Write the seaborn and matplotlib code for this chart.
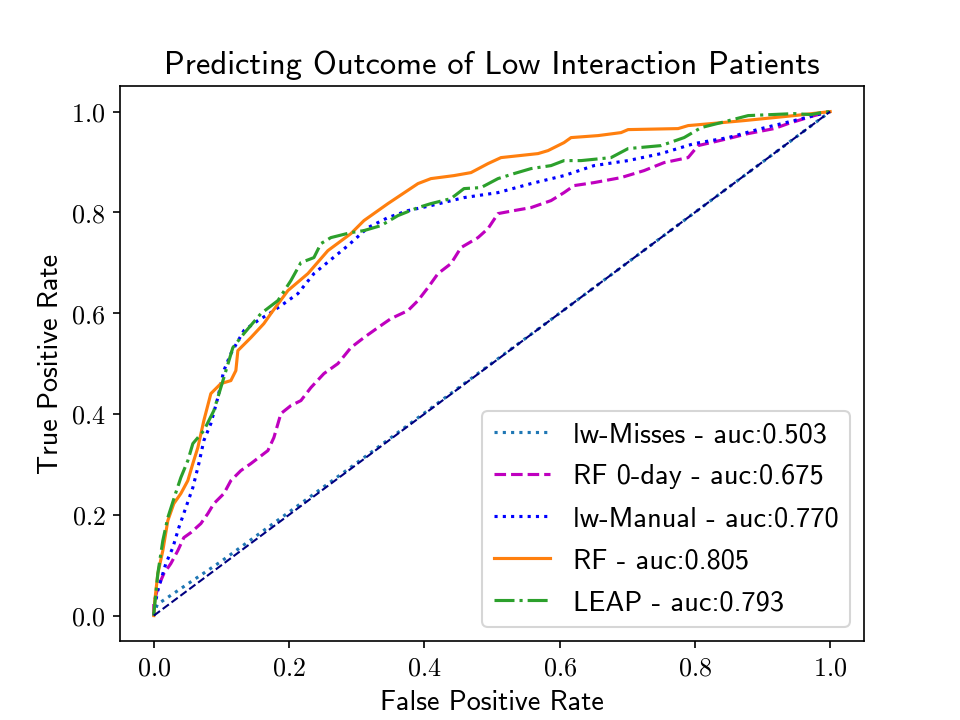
import numpy as np
import pandas as pd
import matplotlib
matplotlib.use("Agg")
import matplotlib.pyplot as plt
from matplotlib.ticker import FuncFormatter
import seaborn as sns

# ---- data (pixel traces converted to rates) ----
X0, X1, Y0, Y1 = 153.0, 829.0, 615.0, 111.0

def to_rates(pts):
    px = np.array([p[0] for p in pts], float)
    py = np.array([p[1] for p in pts], float)
    return list((px - X0) / (X1 - X0)), list((Y0 - py) / (Y0 - Y1))

misses_fpr = [0.0, 0.005, 0.10, 0.30, 0.60, 1.0]
misses_tpr = [0.0, 0.022, 0.108, 0.303, 0.600, 1.0]

rf0_fpr, rf0_tpr = to_rates([(153,615),(153,603),(157,587),(163,573),(170,563),(177,550),(183,537),(190,532),(200,523),(207,513),(213,503),(223,493),(230,480),(240,470),(250,463),(267,450),(273,437),(280,413),(290,405),(300,400),(310,387),(323,373),(337,363),(350,347),(363,337),(377,327),(390,318),(407,310),(417,300),(427,287),(437,273),(450,263),(460,247),(477,237),(487,228),(497,213),(513,210),(530,207),(550,200),(563,192),(573,185),(593,182),(620,177),(643,170),(663,162),(687,157),(697,145),(727,138),(747,133),(773,128),(787,123),(813,115),(829,111)])

manual_fpr, manual_tpr = to_rates([(153,615),(153,610),(157,590),(165,563),(172,547),(178,527),(185,507),(192,487),(198,463),(203,440),(210,423),(217,397),(223,370),(230,353),(243,330),(257,320),(270,312),(283,303),(297,293),(313,273),(330,259),(347,245),(367,227),(387,217),(407,210),(430,205),(463,197),(497,192),(530,183),(563,175),(593,165),(627,160),(660,153),(693,143),(727,137),(760,128),(793,120),(820,113),(829,111)])

rf_fpr, rf_tpr = to_rates([(153,615),(154,600),(157,573),(162,550),(167,520),(173,503),(180,493),(187,480),(192,463),(197,447),(203,420),(210,393),(220,383),(230,380),(235,370),(237,350),(250,337),(263,323),(270,313),(287,290),(307,273),(327,250),(350,233),(363,220),(387,203),(417,183),(430,178),(453,175),(470,172),(487,163),(500,157),(537,153),(547,150),(563,142),(570,137),(597,135),(620,132),(627,129),(677,128),(687,125),(710,123),(743,120),(793,115),(820,112),(829,111)])

leap_fpr, leap_tpr = to_rates([(153,615),(153,613),(157,573),(162,540),(167,517),(175,492),(180,477),(187,460),(192,443),(203,430),(213,410),(223,377),(232,347),(243,333),(260,313),(277,300),(290,280),(300,262),(313,257),(320,243),(330,237),(350,232),(363,230),(380,225),(397,215),(417,207),(430,203),(450,198),(463,188),(480,187),(497,178),(513,173),(530,168),(550,165),(563,160),(580,160),(610,157),(627,148),(660,145),(683,137),(700,127),(720,122),(747,115),(793,113),(810,114),(820,112),(829,111)])

labels = ["lw-Misses - auc:0.503", "RF 0-day - auc:0.675", "lw-Manual - auc:0.770",
          "RF - auc:0.805", "LEAP - auc:0.793"]
colors = ["tab:blue", "m", "b", "tab:orange", "tab:green"]
styles = [":", "--", ":", "-", "-."]
series = [(misses_fpr, misses_tpr), (rf0_fpr, rf0_tpr), (manual_fpr, manual_tpr),
          (rf_fpr, rf_tpr), (leap_fpr, leap_tpr)]

plt.rcParams["mathtext.fontset"] = "cm"
sans = ["cmss10", "DejaVu Sans"]

fig, ax = plt.subplots(figsize=(6.4, 4.8), dpi=150)
for (f, t), lab, c, ls in zip(series, labels, colors, styles):
    df = pd.DataFrame({"fpr": f, "tpr": t})
    sns.lineplot(data=df, x="fpr", y="tpr", ax=ax, sort=False, estimator=None,
                 color=c, linestyle=ls, label=lab, linewidth=1.5)
df_diag = pd.DataFrame({"fpr": [0.0, 1.0], "tpr": [0.0, 1.0]})
sns.lineplot(data=df_diag, x="fpr", y="tpr", ax=ax, sort=False, estimator=None,
             color="navy", linestyle="--", linewidth=1.0)

ax.set_xticks([0, 0.2, 0.4, 0.6, 0.8, 1.0])
ax.set_yticks([0, 0.2, 0.4, 0.6, 0.8, 1.0])
fmt = FuncFormatter(lambda v, p: r"$%.1f$" % v)
ax.xaxis.set_major_formatter(fmt)
ax.yaxis.set_major_formatter(fmt)
ax.tick_params(labelsize=12.5)
ax.set_xlabel("False Positive Rate", family=sans, fontsize=13.5)
ax.set_ylabel("True Positive Rate", family=sans, fontsize=13.5)
ax.set_title("Predicting Outcome of Low Interaction Patients", family=sans, fontsize=15.6)
ax.legend(loc="lower right", prop={"family": sans, "size": 13.6}, labelspacing=0.6)
fig.savefig("out.png", dpi=150)
